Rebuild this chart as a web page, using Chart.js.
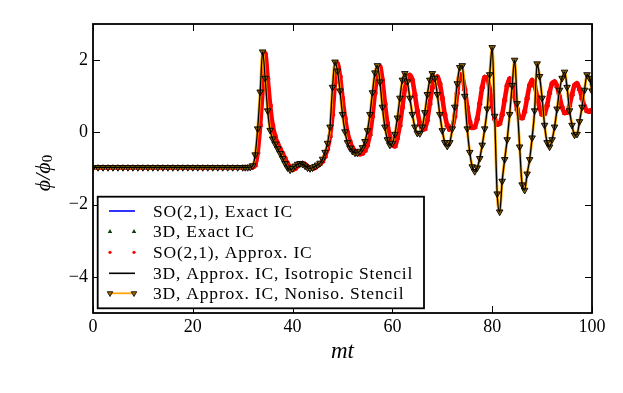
<!DOCTYPE html>
<html>
<head>
<meta charset="utf-8">
<script src="https://cdn.jsdelivr.net/npm/chart.js@4.4.0/dist/chart.umd.min.js"></script>
<style>
  html, body { margin: 0; padding: 0; background: #fff; }
  #wrap { width: 623px; height: 393px; }
</style>
</head>
<body>
<div id="wrap"><canvas id="phiChart" width="623" height="393"></canvas></div>
<script>
// time samples (mt)
const mt = [
  0, 1, 2, 3, 4, 5, 6, 7, 8, 9, 10, 11, 12, 13, 14, 15, 16, 17, 18, 19, 20,
  21, 22, 23, 24, 25, 26, 27, 28, 29, 30,
  30.5, 31, 31.5, 32, 32.5, 33, 33.5, 34, 34.5, 35,
  35.5, 36, 36.5, 37, 37.5, 38, 38.5, 39, 39.5, 40,
  40.5, 41, 41.5, 42, 42.5, 43, 43.5, 44, 44.5, 45,
  45.5, 46, 46.5, 47, 47.5, 48, 48.5, 49, 49.5, 50,
  50.5, 51, 51.5, 52, 52.5, 53, 53.5, 54, 54.5, 55,
  55.5, 56, 56.5, 57, 57.5, 58, 58.5, 59, 59.5, 60,
  60.5, 61, 61.5, 62, 62.5, 63, 63.5, 64, 64.5, 65,
  65.5, 66, 66.5, 67, 67.5, 68, 68.5, 69, 69.5, 70,
  70.5, 71, 71.5, 72, 72.5, 73, 73.5, 74, 74.5, 75,
  75.5, 76, 76.5, 77, 77.5, 78, 78.5, 79, 79.5, 80,
  80.5, 81, 81.5, 82, 82.5, 83, 83.5, 84, 84.5, 85,
  85.5, 86, 86.5, 87, 87.5, 88, 88.5, 89, 89.5, 90,
  90.5, 91, 91.5, 92, 92.5, 93, 93.5, 94, 94.5, 95,
  95.5, 96, 96.5, 97, 97.5, 98, 98.5, 99, 99.5, 100
];

// SO(2,1), exact IC (blue line)
const soExact = [
  -0.97, -0.97, -0.97, -0.97, -0.97, -0.97, -0.97, -0.97, -0.97, -0.97,
  -0.97, -0.97, -0.97, -0.97, -0.97, -0.97, -0.97, -0.97, -0.97, -0.97,
  -0.97, -0.97, -0.97, -0.97, -0.97, -0.97, -0.97, -0.97, -0.97, -0.97, -0.97,
  -0.97, -0.97, -0.97, -0.95, -0.78, -0.2, 0.65, 1.75, 1.9, 1.05,
  0.4, 0.0, -0.22, -0.38, -0.52, -0.65, -0.79, -0.92, -1.0, -1.02,
  -0.97, -0.9, -0.86, -0.87, -0.91, -0.97, -1.0, -0.99, -0.96, -0.91,
  -0.86, -0.77, -0.6, -0.38, 0.02, 0.85, 1.75, 1.85, 1.35, 0.72,
  0.2, -0.14, -0.35, -0.48, -0.55, -0.58, -0.57, -0.51, -0.39, -0.15,
  0.22, 0.8, 1.4, 1.78, 1.65, 1.05, 0.45, 0.02, -0.25, -0.37,
  -0.38, -0.15, 0.2, 0.7, 1.2, 1.5, 1.58, 1.45, 1.05, 0.6,
  0.25, 0.08, 0.1, 0.35, 0.8, 1.25, 1.5, 1.54, 1.35, 0.95,
  0.5, 0.2, 0.08, 0.15, 0.45, 1.1, 1.6, 1.55, 1.2, 0.7,
  0.3, 0.13, 0.15, 0.38, 0.8, 1.25, 1.52, 1.5, 1.2, 0.75,
  0.38, 0.22, 0.25, 0.5, 0.9, 1.3, 1.48, 1.35, 1.0, 0.65,
  0.42, 0.4, 0.58, 0.95, 1.3, 1.44, 1.3, 1.0, 0.68, 0.5,
  0.52, 0.75, 1.1, 1.35, 1.4, 1.28, 0.98, 0.7, 0.54, 0.55,
  0.75, 1.05, 1.3, 1.35, 1.2, 0.95, 0.72, 0.6, 0.58, 0.62
];

// SO(2,1), approx. IC (red dots)
const soApprox = [
  -0.97, -0.97, -0.97, -0.97, -0.97, -0.97, -0.97, -0.97, -0.97, -0.97,
  -0.97, -0.97, -0.97, -0.97, -0.97, -0.97, -0.97, -0.97, -0.97, -0.97,
  -0.97, -0.97, -0.97, -0.97, -0.97, -0.97, -0.97, -0.97, -0.97, -0.97, -0.97,
  -0.97, -0.97, -0.97, -0.96, -0.9, -0.55, 0.2, 1.2, 2.18, 1.5,
  0.75, 0.2, -0.1, -0.3, -0.45, -0.58, -0.72, -0.86, -0.96, -1.03,
  -1.0, -0.93, -0.87, -0.86, -0.89, -0.95, -0.99, -1.0, -0.97, -0.92,
  -0.87, -0.8, -0.66, -0.45, -0.1, 0.5, 1.4, 1.9, 1.55, 0.95,
  0.4, 0.0, -0.25, -0.42, -0.52, -0.58, -0.6, -0.58, -0.5, -0.35,
  -0.05, 0.45, 1.1, 1.6, 1.82, 1.45, 0.8, 0.25, -0.12, -0.35,
  -0.38, -0.15, 0.2, 0.7, 1.2, 1.5, 1.58, 1.45, 1.05, 0.6,
  0.25, 0.08, 0.1, 0.35, 0.8, 1.25, 1.5, 1.54, 1.35, 0.95,
  0.5, 0.2, 0.08, 0.15, 0.45, 1.1, 1.6, 1.55, 1.2, 0.7,
  0.3, 0.13, 0.15, 0.38, 0.8, 1.25, 1.52, 1.5, 1.2, 0.75,
  0.38, 0.22, 0.25, 0.5, 0.9, 1.3, 1.48, 1.35, 1.0, 0.65,
  0.42, 0.4, 0.58, 0.95, 1.3, 1.44, 1.3, 1.0, 0.68, 0.5,
  0.52, 0.75, 1.1, 1.35, 1.4, 1.28, 0.98, 0.7, 0.54, 0.55,
  0.75, 1.05, 1.3, 1.35, 1.2, 0.95, 0.72, 0.6, 0.58, 0.62
];

// 3D, approx. IC, isotropic stencil (black line)
const isoStencil = [
  -0.97, -0.97, -0.97, -0.97, -0.97, -0.97, -0.97, -0.97, -0.97, -0.97,
  -0.97, -0.97, -0.97, -0.97, -0.97, -0.97, -0.97, -0.97, -0.97, -0.97,
  -0.97, -0.97, -0.97, -0.97, -0.97, -0.97, -0.97, -0.97, -0.97, -0.97, -0.97,
  -0.97, -0.97, -0.96, -0.92, -0.62, 0.1, 1.12, 2.23, 1.5, 0.6,
  0.06, -0.18, -0.32, -0.45, -0.58, -0.72, -0.86, -0.98, -1.04, -1.0,
  -0.93, -0.88, -0.86, -0.88, -0.93, -0.98, -1.0, -0.98, -0.94, -0.9,
  -0.85, -0.74, -0.55, -0.3, 0.15, 1.25, 1.95, 1.7, 1.15, 0.5,
  0.02, -0.28, -0.43, -0.52, -0.57, -0.57, -0.52, -0.42, -0.25, 0.05,
  0.5, 1.1, 1.65, 1.85, 1.4, 0.7, 0.15, -0.2, -0.35, -0.3,
  -0.05, 0.4, 0.95, 1.45, 1.63, 1.4, 0.95, 0.5, 0.15, -0.02,
  -0.03, 0.15, 0.55, 1.05, 1.45, 1.63, 1.5, 1.05, 0.5, 0.05,
  -0.28, -0.38, -0.28, 0.1, 0.7, 1.35, 1.8, 1.85, 1.0, 0.1,
  -0.55, -0.95, -1.08, -0.98, -0.72, -0.35, 0.1, 0.65, 1.6, 2.35,
  0.45, -1.7, -2.2, -1.35, -0.75, -0.2, 0.5, 1.3, 2.0, 0.8,
  -0.4, -1.45, -1.6, -1.15, -0.75, -0.15, 0.6, 1.9, 1.55, 0.95,
  0.2, -0.28, -0.4, -0.2, 0.15, 0.65, 1.17, 1.5, 1.67, 1.25,
  0.6, 0.2, -0.07, -0.05, 0.3, 0.7, 1.17, 1.6, 1.5, 1.15
];

// the other two runs sit on top of these within a pixel
const exact3d = soApprox;          // 3D, exact IC: hidden under the red dots
const nonisoStencil = isoStencil;  // 3D, approx. IC, noniso. stencil

const xTicks = [0, 20, 40, 60, 80, 100];
const yTicks = [-4, -2, 0, 2];
const seriesNames = [
  'SO(2,1), Exact IC',
  '3D, Exact IC',
  'SO(2,1), Approx. IC',
  '3D, Approx. IC, Isotropic Stencil',
  '3D, Approx. IC, Noniso. Stencil'
];

const serif = "'Liberation Serif', 'DejaVu Serif', serif";
const asPoints = vals => mt.map((t, i) => ({ x: t, y: vals[i] }));
const minus = v => (v < 0 ? '\u2212' + Math.abs(v) : String(v));

// frame + inward ticks on all four sides
const framePlugin = {
  id: 'frame',
  afterDatasetsDraw(chart) {
    const { ctx, chartArea: a, scales: { x, y } } = chart;
    ctx.save();
    ctx.strokeStyle = '#000';
    ctx.lineWidth = 1;
    ctx.beginPath();
    xTicks.forEach(v => {
      const px = Math.round(x.getPixelForValue(v)) + 0.5;
      ctx.moveTo(px, a.bottom); ctx.lineTo(px, a.bottom - 7);
      ctx.moveTo(px, a.top); ctx.lineTo(px, a.top + 7);
    });
    yTicks.forEach(v => {
      const py = Math.round(y.getPixelForValue(v)) + 0.5;
      ctx.moveTo(a.left, py); ctx.lineTo(a.left + 7, py);
      ctx.moveTo(a.right, py); ctx.lineTo(a.right - 7, py);
    });
    ctx.stroke();
    ctx.lineWidth = 1.8;
    ctx.strokeRect(a.left, a.top, a.right - a.left, a.bottom - a.top);
    ctx.restore();
  }
};

// axis titles and the boxed legend
const annotatePlugin = {
  id: 'annotate',
  afterDraw(chart) {
    const { ctx, chartArea: a } = chart;
    ctx.save();
    ctx.fillStyle = '#000';

    ctx.font = 'italic 23px ' + serif;
    ctx.textAlign = 'center';
    ctx.textBaseline = 'middle';
    ctx.fillText('mt', (a.left + a.right) / 2, 352);

    ctx.translate(44, 173);
    ctx.rotate(-Math.PI / 2);
    ctx.font = 'italic 22px ' + serif;
    ctx.textAlign = 'left';
    const main = '\u03d5/\u03d5';
    const w = ctx.measureText(main).width;
    ctx.font = '15px ' + serif;
    const ws = ctx.measureText('0').width;
    ctx.font = 'italic 22px ' + serif;
    ctx.fillText(main, -(w + ws) / 2, 0);
    ctx.font = '15px ' + serif;
    ctx.fillText('0', -(w + ws) / 2 + w, 4);
    ctx.restore();

    // legend
    const box = { x: 97.7, y: 196.7, w: 326.3, h: 111.6 };
    const rows = [211, 231.7, 252.3, 273.3, 293.3];
    const x0 = 109, x1 = 135;
    ctx.save();
    ctx.fillStyle = '#fff';
    ctx.fillRect(box.x, box.y, box.w, box.h);
    ctx.strokeStyle = '#000';
    ctx.lineWidth = 1.8;
    ctx.strokeRect(box.x, box.y, box.w, box.h);

    const line = (yy, color, width) => {
      ctx.strokeStyle = color;
      ctx.lineWidth = width;
      ctx.beginPath(); ctx.moveTo(x0, yy); ctx.lineTo(x1, yy); ctx.stroke();
    };
    const tri = (cx, cy, r, down, fill, edge) => {
      const s = down ? -1 : 1;
      ctx.beginPath();
      ctx.moveTo(cx, cy - s * r);
      ctx.lineTo(cx + r * 0.866, cy + s * r * 0.5);
      ctx.lineTo(cx - r * 0.866, cy + s * r * 0.5);
      ctx.closePath();
      ctx.fillStyle = fill; ctx.fill();
      if (edge) { ctx.strokeStyle = edge; ctx.lineWidth = 0.8; ctx.stroke(); }
    };
    line(rows[0], '#0000ff', 1.6);
    tri(x0 + 1, rows[1], 2.6, false, '#0b3b0b');
    tri(x1 - 1, rows[1], 2.6, false, '#0b3b0b');
    [x0 + 1, x1 - 1].forEach(cx => {
      ctx.fillStyle = '#ff0000';
      ctx.beginPath(); ctx.arc(cx, rows[2], 1.6, 0, Math.PI * 2); ctx.fill();
    });
    line(rows[3], '#000', 1.6);
    line(rows[4], '#ffa500', 1.8);
    tri(x0 + 1, rows[4], 3.2, true, '#9a6a00', '#000');
    tri(x1 - 1, rows[4], 3.2, true, '#9a6a00', '#000');

    ctx.fillStyle = '#000';
    ctx.font = '17.5px ' + serif;
    ctx.letterSpacing = '0.8px';
    ctx.textAlign = 'left';
    ctx.textBaseline = 'middle';
    seriesNames.forEach((name, i) => ctx.fillText(name, 153, rows[i] + 1));
    ctx.restore();
  }
};

new Chart(document.getElementById('phiChart'), {
  type: 'line',
  data: {
    datasets: [
      {
        label: seriesNames[0], data: asPoints(soExact),
        borderColor: '#0000ff', borderWidth: 1.5, pointRadius: 0,
        cubicInterpolationMode: 'monotone', order: 5
      },
      {
        label: seriesNames[1], data: asPoints(exact3d), showLine: false,
        pointStyle: 'triangle', pointRadius: 2.9,
        backgroundColor: '#0b3b0b', borderColor: '#0b3b0b', borderWidth: 0.5, order: 4
      },
      {
        // dense dot run: the dots merge into a thick red trace
        label: seriesNames[2], data: asPoints(soApprox),
        borderColor: '#ff0000', borderWidth: 4.6, borderCapStyle: 'round', borderJoinStyle: 'round',
        cubicInterpolationMode: 'monotone',
        pointStyle: 'circle', pointRadius: 2.6,
        backgroundColor: '#ff0000', pointBorderWidth: 0, order: 3
      },
      {
        label: seriesNames[3], data: asPoints(isoStencil),
        borderColor: '#000000', borderWidth: 1.3, pointRadius: 0,
        cubicInterpolationMode: 'monotone', order: 0
      },
      {
        label: seriesNames[4], data: asPoints(nonisoStencil),
        borderColor: '#ffa500', borderWidth: 2.8,
        pointStyle: 'triangle', rotation: 180, pointRadius: 3.8,
        pointBackgroundColor: '#8a6000', pointBorderColor: '#000000', pointBorderWidth: 0.9,
        cubicInterpolationMode: 'monotone', order: 1
      }
    ]
  },
  options: {
    responsive: false,
    animation: false,
    events: [],
    layout: { padding: { top: 24, right: 31, bottom: 0, left: 0 } },
    plugins: { legend: { display: false }, tooltip: { enabled: false } },
    scales: {
      x: {
        type: 'linear', min: 0, max: 100,
        afterBuildTicks: s => { s.ticks = xTicks.map(v => ({ value: v })); },
        afterFit: s => { s.height = 80; },
        grid: { display: false, drawTicks: false },
        border: { display: false },
        ticks: { color: '#000', font: { family: serif, size: 18 }, padding: 3, maxRotation: 0, autoSkip: false }
      },
      y: {
        type: 'linear', min: -5, max: 3,
        afterBuildTicks: s => { s.ticks = yTicks.map(v => ({ value: v })); },
        afterFit: s => { s.width = 93; },
        grid: { display: false, drawTicks: false },
        border: { display: false },
        ticks: { color: '#000', font: { family: serif, size: 18 }, padding: 5, callback: minus }
      }
    }
  },
  plugins: [framePlugin, annotatePlugin]
});
</script>
</body>
</html>
